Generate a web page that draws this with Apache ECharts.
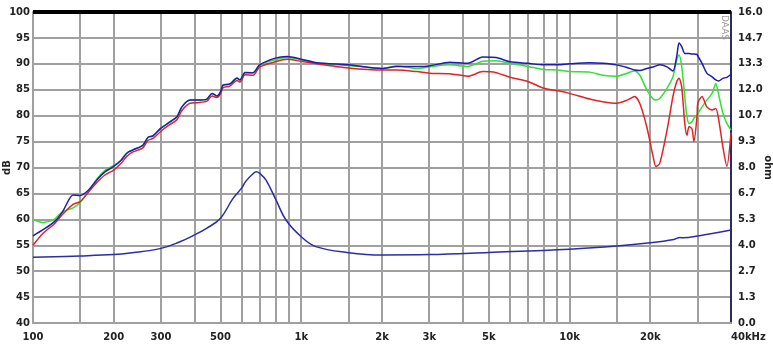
<!DOCTYPE html>
<html lang="en">
<head>
	<meta charset="UTF-8">
	<title>Frequency response</title>
	<script src="https://cdn.jsdelivr.net/npm/echarts@6/dist/echarts.min.js"></script>
	<style>
		html, body { margin: 0; padding: 0; background: #fff; }
		#chart { width: 773px; height: 347px; }
	</style>
</head>
<body>
	<div id="chart"></div>
	<script>
		// frequency axis (Hz)
		var gridFreqs = [100, 150, 200, 300, 400, 500, 600, 700, 800, 900, 1000, 1500, 2000, 3000, 4000, 5000,
			6000, 7000, 8000, 9000, 10000, 15000, 20000, 30000, 40000];
		var labelFreqs = [100, 200, 300, 500, 1000, 2000, 3000, 5000, 10000, 20000, 40000];
		var labelTexts = ['100', '200', '300', '500', '1k', '2k', '3k', '5k', '10k', '20k', '40kHz'];

		// SPL curves (dB)
		var frFreq = [100, 109, 120, 129, 141, 150, 160, 173, 186, 200, 213, 224, 236, 257, 268, 280, 300, 324, 344, 359,
			385, 409, 445, 465, 485, 500, 511, 542, 576, 591, 617, 661, 700, 800, 885, 1000, 1144, 1500, 2000, 2270,
			2700, 3000, 3580, 4180, 4750, 5330, 6000, 7000, 8000, 9050, 10000, 11900, 13300, 15000, 16400, 17500,
			18300, 19400, 20500, 21000, 21700, 23100, 24300, 25100, 25600, 26200, 26900, 27400, 27900, 28600, 29100,
			29900, 30100, 31200, 32500, 34000, 35100, 36000, 37300, 38600, 40000];
		var frBlue = [56.8, 58.0, 59.5, 61.5, 64.7, 64.6, 65.5, 67.6, 69.2, 70.2, 71.4, 72.8, 73.4, 74.3, 75.8, 76.1, 77.6, 78.8, 79.8, 81.7,
			83.0, 83.0, 83.2, 84.3, 83.8, 84.6, 85.9, 86.1, 87.2, 86.9, 88.3, 88.3, 89.8, 91.1, 91.4, 90.9, 90.2, 89.8, 89.1, 89.5,
			89.5, 89.6, 90.3, 90.1, 91.3, 91.2, 90.4, 90.1, 89.8, 89.8, 90.0, 90.2, 90.1, 89.8, 89.3, 88.8,
			88.7, 89.1, 89.4, 89.6, 89.8, 89.4, 88.6, 91.4, 94.0, 93.3, 92.0, 92.0, 92.0, 91.9, 91.9,
			91.8, 91.5, 90.1, 88.2, 87.5, 86.9, 86.7, 87.2, 87.4, 88.0];
		var frRed = [55.0, 57.3, 59.1, 61.0, 62.9, 63.4, 65.1, 67.1, 68.6, 69.5, 70.8, 72.2, 73.0, 73.8, 75.2, 75.6, 77.0, 78.3, 79.2, 81.0,
			82.4, 82.5, 82.8, 83.8, 83.5, 84.2, 85.4, 85.7, 86.8, 86.5, 87.9, 87.8, 89.4, 90.4, 90.9, 90.5, 90.0, 89.2, 88.8, 88.8,
			88.5, 88.2, 88.1, 87.6, 88.5, 88.3, 87.4, 86.6, 85.3, 84.8, 84.3, 83.2, 82.7, 82.4, 83.0, 83.7,
			82.3, 77.9, 72.1, 70.2, 70.8, 77.2, 83.7, 86.6, 87.2, 85.5, 78.5, 76.2, 77.9, 77.5, 75.0,
			80.0, 82.5, 83.7, 81.7, 81.1, 81.4, 79.2, 74.0, 70.2, 76.7];
		var frGreen = [60.0, 59.4, 60.0, 61.5, 62.2, 63.3, 65.2, 67.8, 69.5, 70.4, 71.4, 72.8, 73.4, 74.3, 75.8, 76.1, 77.6, 78.8, 79.8, 81.7,
			83.0, 83.0, 83.2, 84.3, 83.8, 84.6, 85.9, 86.1, 87.3, 86.9, 88.4, 88.3, 89.8, 90.8, 91.2, 90.8, 90.1, 89.7, 89.1, 89.6,
			89.1, 89.4, 89.8, 89.5, 90.5, 90.6, 90.1, 89.5, 88.9, 88.8, 88.5, 88.4, 87.8, 87.6, 88.2, 88.6,
			87.8, 85.0, 83.2, 83.0, 83.3, 85.3, 87.5, 90.7, 91.7, 89.5, 83.7, 79.8, 78.5, 78.8, 79.5,
			80.1, 80.4, 81.7, 83.0, 84.3, 86.2, 84.0, 80.5, 78.5, 77.2];

		// impedance (ohm)
		var zFreq = [100, 150, 200, 230, 300, 353, 400, 445, 500, 556, 600, 622, 661, 680, 700, 738, 805, 877, 1000, 1134,
			1500, 2000, 3000, 5000, 10000, 15000, 20000, 24500, 25800, 26500, 30500, 40000];
		var zOhm = [3.38, 3.45, 3.52, 3.60, 3.84, 4.18, 4.53, 4.88, 5.39, 6.40, 6.95, 7.30, 7.68, 7.78, 7.70, 7.36, 6.33, 5.30, 4.44, 3.93,
			3.62, 3.50, 3.52, 3.63, 3.80, 3.96, 4.13, 4.30, 4.40, 4.38, 4.49, 4.78];

		function lg(f) { return Math.log10(f); }
		function pairs(fs, vs) {
			return fs.map(function (f, i) { return [lg(f), vs[i]]; });
		}

		var labelFont = { fontFamily: 'DejaVu Sans', fontWeight: 'bold', fontSize: 10, color: '#222' };
		var gridColor = '#a0a0a0';

		var chart = echarts.init(document.getElementById('chart'));
		chart.setOption({
			animation: false,
			backgroundColor: '#fff',
			grid: { left: 33, right: 42, top: 12, bottom: 24, outerBoundsMode: 'none' },
			xAxis: {
				type: 'value',
				min: lg(100),
				max: lg(40000),
				axisLine: { show: true, lineStyle: { color: gridColor, width: 2 } },
				axisTick: { show: false, customValues: gridFreqs.map(lg) },
				splitLine: { show: true, lineStyle: { color: gridColor, width: 2 } },
				axisLabel: Object.assign({
					margin: 9,
					customValues: labelFreqs.map(lg),
					alignMaxLabel: 'left',
					formatter: function (v) {
						for (var i = 0; i < labelFreqs.length; i++) {
							if (Math.abs(lg(labelFreqs[i]) - v) < 1e-6) return labelTexts[i];
						}
						return '';
					}
				}, labelFont)
			},
			yAxis: [{
				type: 'value',
				min: 40,
				max: 100,
				interval: 5,
				name: 'dB',
				nameLocation: 'middle',
				nameGap: 21,
				nameRotate: 90,
				nameMoveOverlap: false,
				nameTextStyle: labelFont,
				axisLine: { show: true, lineStyle: { color: gridColor, width: 2 } },
				axisTick: { show: false },
				splitLine: { show: true, lineStyle: { color: gridColor, width: 2 } },
				axisLabel: Object.assign({ margin: 3 }, labelFont)
			}, {
				type: 'value',
				min: 0,
				max: 16,
				interval: 16 / 12,
				position: 'right',
				name: 'ohm',
				nameLocation: 'middle',
				nameGap: 32,
				nameRotate: -90,
				nameMoveOverlap: false,
				nameTextStyle: labelFont,
				axisLine: { show: true, lineStyle: { color: '#2a2a66', width: 2 } },
				axisTick: { show: false },
				splitLine: { show: false },
				axisLabel: Object.assign({
					margin: 7,
					formatter: function (v) { return v.toFixed(1); }
				}, labelFont)
			}],
			graphic: [
				{ type: 'rect', shape: { x: 33, y: 10, width: 698, height: 4 }, style: { fill: '#000' }, z: 100 },
				{
					type: 'text', x: 729, y: 15, rotation: -Math.PI / 2,
					style: { text: 'DAAS', fill: '#999', font: '9px DejaVu Sans' }, z: 100
				}
			],
			series: [{
				name: 'impedance',
				type: 'line',
				yAxisIndex: 1,
				data: pairs(zFreq, zOhm),
				smooth: 0.4,
				showSymbol: false,
				lineStyle: { color: '#2c2ca6', width: 1.5 }
			}, {
				name: 'green',
				type: 'line',
				data: pairs(frFreq, frGreen),
				smooth: 0.25,
				showSymbol: false,
				lineStyle: { color: '#33e033', width: 1.5 }
			}, {
				name: 'red',
				type: 'line',
				data: pairs(frFreq, frRed),
				smooth: 0.25,
				showSymbol: false,
				lineStyle: { color: '#e02424', width: 1.5 }
			}, {
				name: 'blue',
				type: 'line',
				data: pairs(frFreq, frBlue),
				smooth: 0.25,
				showSymbol: false,
				lineStyle: { color: '#1c1cb4', width: 1.5 }
			}]
		});
	</script>
</body>
</html>
